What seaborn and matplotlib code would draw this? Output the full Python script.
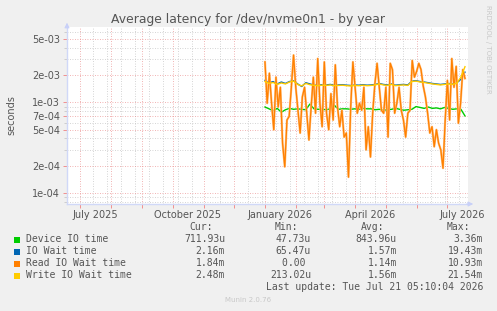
import numpy as np
import pandas as pd
import matplotlib
matplotlib.use("Agg")
import matplotlib.pyplot as plt
import matplotlib.dates as mdates
from matplotlib.ticker import FixedLocator, FuncFormatter, NullFormatter
import seaborn as sns

# values (seconds)
read_wait = [2.8e-3, 9.8e-4, 2.1e-3, 9.8e-4, 5.0e-4, 1.9e-3, 8.9e-4, 1.47e-3, 3.55e-4, 1.95e-4,
             6.4e-4, 7.0e-4, 1.47e-3, 3.33e-3, 1.47e-3, 8.2e-4, 4.6e-4, 1.15e-3, 1.47e-3, 7.6e-4,
             3.85e-4, 8.9e-4, 1.9e-3, 7.6e-4, 3.05e-3, 9.8e-4, 5.4e-4, 2.8e-3, 7.6e-4, 5.0e-4,
             1.25e-3, 6.4e-4, 2.6e-3, 8.9e-4, 5.4e-4, 8.2e-4, 4.15e-4, 4.6e-4, 1.5e-4, 8.9e-4,
             2.8e-3, 1.47e-3, 7.6e-4, 9.8e-4, 8.2e-4, 1.47e-3, 3.0e-4, 5.4e-4, 2.5e-4, 7.6e-4,
             1.6e-3, 2.7e-3, 1.47e-3, 8.2e-4, 7.6e-4, 1.47e-3, 4.15e-4, 2.7e-3, 2.3e-3, 7.6e-4,
             9.8e-4, 1.47e-3, 8.2e-4, 6.4e-4, 4.15e-4, 7.6e-4, 8.2e-4, 2.9e-3, 1.9e-3, 2.2e-3,
             2.7e-3, 2.3e-3, 1.52e-3, 1.15e-3, 7.6e-4, 4.6e-4, 5.4e-4, 3.25e-4, 5.0e-4, 3.55e-4,
             3.0e-4, 1.88e-4, 6.4e-4, 1.75e-3, 6.4e-4, 3.05e-3, 1.47e-3, 2.5e-3, 5.9e-4, 9.8e-4,
             2.3e-3, 1.84e-3]

device_io = [8.9e-4, 8.5e-4, 8.1e-4, 8.6e-4, 7.8e-4, 8.3e-4, 8.6e-4, 8.4e-4, 8.5e-4, 8.4e-4,
             8.3e-4, 9.6e-4, 8.5e-4, 8.4e-4, 8.4e-4, 8.3e-4, 8.5e-4, 9.3e-4, 8.4e-4, 8.5e-4,
             8.5e-4, 8.4e-4, 8.5e-4, 8.4e-4, 8.6e-4, 8.5e-4, 8.5e-4, 8.3e-4, 8.4e-4, 8.2e-4,
             8.3e-4, 8.4e-4, 8.6e-4, 8.4e-4, 8.2e-4, 8.3e-4, 8.4e-4, 9.0e-4, 8.8e-4, 8.6e-4,
             8.9e-4, 8.6e-4, 8.7e-4, 8.5e-4, 8.8e-4, 8.6e-4, 8.4e-4, 8.5e-4, 8.4e-4, 7.1e-4]

io_wait = [1.75e-3, 1.65e-3, 1.7e-3, 1.6e-3, 1.68e-3, 1.62e-3, 1.7e-3, 1.74e-3, 1.6e-3, 1.5e-3,
           1.65e-3, 1.6e-3, 1.56e-3, 1.55e-3, 1.57e-3, 1.56e-3, 1.58e-3, 1.55e-3, 1.56e-3, 1.57e-3,
           1.55e-3, 1.54e-3, 1.56e-3, 1.55e-3, 1.57e-3, 1.55e-3, 1.56e-3, 1.58e-3, 1.62e-3, 1.58e-3,
           1.56e-3, 1.6e-3, 1.55e-3, 1.57e-3, 1.58e-3, 1.56e-3, 1.72e-3, 1.74e-3, 1.7e-3, 1.68e-3,
           1.65e-3, 1.62e-3, 1.6e-3, 1.58e-3, 1.6e-3, 1.62e-3, 1.6e-3, 1.65e-3, 1.8e-3, 2.16e-3]

write_wait = [1.7e-3, 1.62e-3, 1.66e-3, 1.58e-3, 1.64e-3, 1.6e-3, 1.68e-3, 1.72e-3, 1.58e-3, 1.52e-3,
              1.62e-3, 1.57e-3, 1.54e-3, 1.53e-3, 1.55e-3, 1.54e-3, 1.56e-3, 1.53e-3, 1.54e-3, 1.55e-3,
              1.53e-3, 1.52e-3, 1.54e-3, 1.53e-3, 1.55e-3, 1.53e-3, 1.54e-3, 1.56e-3, 1.6e-3, 1.56e-3,
              1.54e-3, 1.58e-3, 1.53e-3, 1.55e-3, 1.56e-3, 1.54e-3, 1.7e-3, 1.72e-3, 1.68e-3, 1.66e-3,
              1.63e-3, 1.6e-3, 1.58e-3, 1.56e-3, 1.58e-3, 1.6e-3, 1.58e-3, 1.63e-3, 1.9e-3, 2.48e-3]

legend_names = ["Device IO time", "IO Wait time", "Read IO Wait time", "Write IO Wait time"]
legend_colors = ["#00CC00", "#0066B3", "#FF8000", "#FFCC00"]
cur_vals = ["711.93u", "2.16m", "1.84m", "2.48m"]
min_vals = ["47.73u", "65.47u", "0.00 ", "213.02u"]
avg_vals = ["843.96u", "1.57m", "1.14m", "1.56m"]
max_vals = ["3.36m", "19.43m", "10.93m", "21.54m"]

y_major = [1e-4, 2e-4, 5e-4, 7e-4, 1e-3, 2e-3, 5e-3]
y_minor = [8e-5, 9e-5, 3e-4, 4e-4, 6e-4, 8e-4, 9e-4, 3e-3, 4e-3, 6e-3]
x_labels = ["July 2025", "October 2025", "January 2026", "April 2026", "July 2026"]

start, end = "2026-01-01", "2026-07-19"
df_read = pd.DataFrame({"t": pd.date_range(start, end, periods=len(read_wait)), "v": read_wait})
df_dev = pd.DataFrame({"t": pd.date_range(start, end, periods=len(device_io)), "v": device_io})
df_io = pd.DataFrame({"t": pd.date_range(start, end, periods=len(io_wait)), "v": io_wait})
df_wr = pd.DataFrame({"t": pd.date_range(start, end, periods=len(write_wait)), "v": write_wait})

bg = "#F0F0F0"
txt = "#555555"
fig = plt.figure(figsize=(4.97, 3.11), dpi=100, facecolor=bg)
ax = fig.add_axes([67 / 497, 1 - 204 / 311, 401 / 497, 177 / 311])
ax.set_facecolor("white")

sns.lineplot(data=df_dev, x="t", y="v", ax=ax, color=legend_colors[0], lw=1)
sns.lineplot(data=df_io, x="t", y="v", ax=ax, color=legend_colors[1], lw=1)
sns.lineplot(data=df_read, x="t", y="v", ax=ax, color="#FFC080", lw=1.6)
sns.lineplot(data=df_read, x="t", y="v", ax=ax, color=legend_colors[2], lw=0.9)
sns.lineplot(data=df_wr, x="t", y="v", ax=ax, color=legend_colors[3], lw=1)

ax.set_yscale("log")
ax.set_ylim(7.57e-5, 6.8e-3)
ax.set_xlim(pd.Timestamp("2025-06-18"), pd.Timestamp("2026-07-22"))

ax.yaxis.set_major_locator(FixedLocator(y_major))
ax.yaxis.set_minor_locator(FixedLocator(y_minor))
ax.yaxis.set_major_formatter(FuncFormatter(lambda v, p: f"{v:.0e}"))
ax.yaxis.set_minor_formatter(NullFormatter())

# x: labels mid-month every 3 months, red grid at month starts
label_pos = [pd.Timestamp(d) for d in ["2025-07-16", "2025-10-16", "2026-01-16", "2026-04-16", "2026-07-16"]]
ax.set_xticks(label_pos)
ax.set_xticklabels(x_labels)
ax.xaxis.set_minor_locator(mdates.MonthLocator())
ax.tick_params(axis="x", which="major", length=0, pad=4, labelsize=7, labelcolor=txt)
ax.tick_params(axis="x", which="minor", length=3, color="#F08080", width=0.6)
ax.tick_params(axis="y", which="major", length=3, color="#F08080", width=0.6, labelsize=7, labelcolor=txt, pad=2)
ax.tick_params(axis="y", which="minor", length=2, color="#C8C8C8", width=0.6)

ax.grid(False, axis="x", which="major")
ax.grid(True, axis="x", which="minor", color="#E88080", ls=(0, (1, 2)), lw=0.6, alpha=0.8)
ax.grid(True, axis="y", which="major", color="#E88080", ls=(0, (1, 2)), lw=0.6, alpha=0.8)
ax.grid(True, axis="y", which="minor", color="#B8B8B8", ls=(0, (1, 2)), lw=0.6, alpha=0.8)
for d in pd.date_range("2025-07-14", "2026-07-22", freq="14D"):
    if d.day > 5:
        ax.axvline(d, color="#B8B8B8", ls=(0, (1, 2)), lw=0.6, alpha=0.8, zorder=0.5)

for s in ["top", "right"]:
    ax.spines[s].set_visible(False)
for s in ["left", "bottom"]:
    ax.spines[s].set_color("#D0D8F8")
    ax.spines[s].set_linewidth(1)
ax.annotate("", xy=(1.02, 0), xycoords="axes fraction", xytext=(0.99, 0),
            arrowprops=dict(arrowstyle="-|>", color="#C8D0F8", lw=0.8, mutation_scale=7), annotation_clip=False)
ax.annotate("", xy=(0, 1.04), xycoords="axes fraction", xytext=(0, 0.99),
            arrowprops=dict(arrowstyle="-|>", color="#C8D0F8", lw=0.8, mutation_scale=7), annotation_clip=False)
ax.set_xlabel("")
ax.set_ylabel("")

fig.text(248 / 497, 1 - 19 / 311, "Average latency for /dev/nvme0n1 - by year", ha="center", va="center",
         fontsize=8.9, color=txt)
fig.text(11 / 497, 1 - 115 / 311, "seconds", rotation=90, ha="center", va="center", fontsize=7, color=txt)
fig.text(488 / 497, 1 - 5 / 311, "RRDTOOL / TOBI OETIKER", rotation=270, ha="center", va="top",
         fontsize=5, color="#C8C8C8")

mono = "DejaVu Sans Mono"
fs = 7
def px(x, y):
    return x / 497, 1 - y / 311

for hdr, xr in zip(["Cur:", "Min:", "Avg:", "Max:"], [213, 298, 384, 470]):
    fig.text(*px(xr, 227), hdr, ha="right", va="center", family=mono, fontsize=fs, color=txt)
for i, name in enumerate(legend_names):
    y = 239.5 + i * 12
    fig.patches.append(plt.Rectangle(px(14, y + 3), 6 / 497, 6 / 311, transform=fig.transFigure,
                                     facecolor=legend_colors[i], edgecolor="none"))
    fig.text(*px(26, y), name, ha="left", va="center", family=mono, fontsize=fs, color=txt)
    for col, xr in zip([cur_vals, min_vals, avg_vals, max_vals], [225, 311, 397, 483]):
        fig.text(*px(xr, y), col[i], ha="right", va="center", family=mono, fontsize=fs, color=txt)
fig.text(*px(483, 287.5), "Last update: Tue Jul 21 05:10:04 2026", ha="right", va="center",
         family=mono, fontsize=fs, color=txt)
fig.text(*px(248, 300), "Munin 2.0.76", ha="center", va="center", fontsize=5, color="#C8C8C8")

fig.savefig("out.png", dpi=100, facecolor=bg)
